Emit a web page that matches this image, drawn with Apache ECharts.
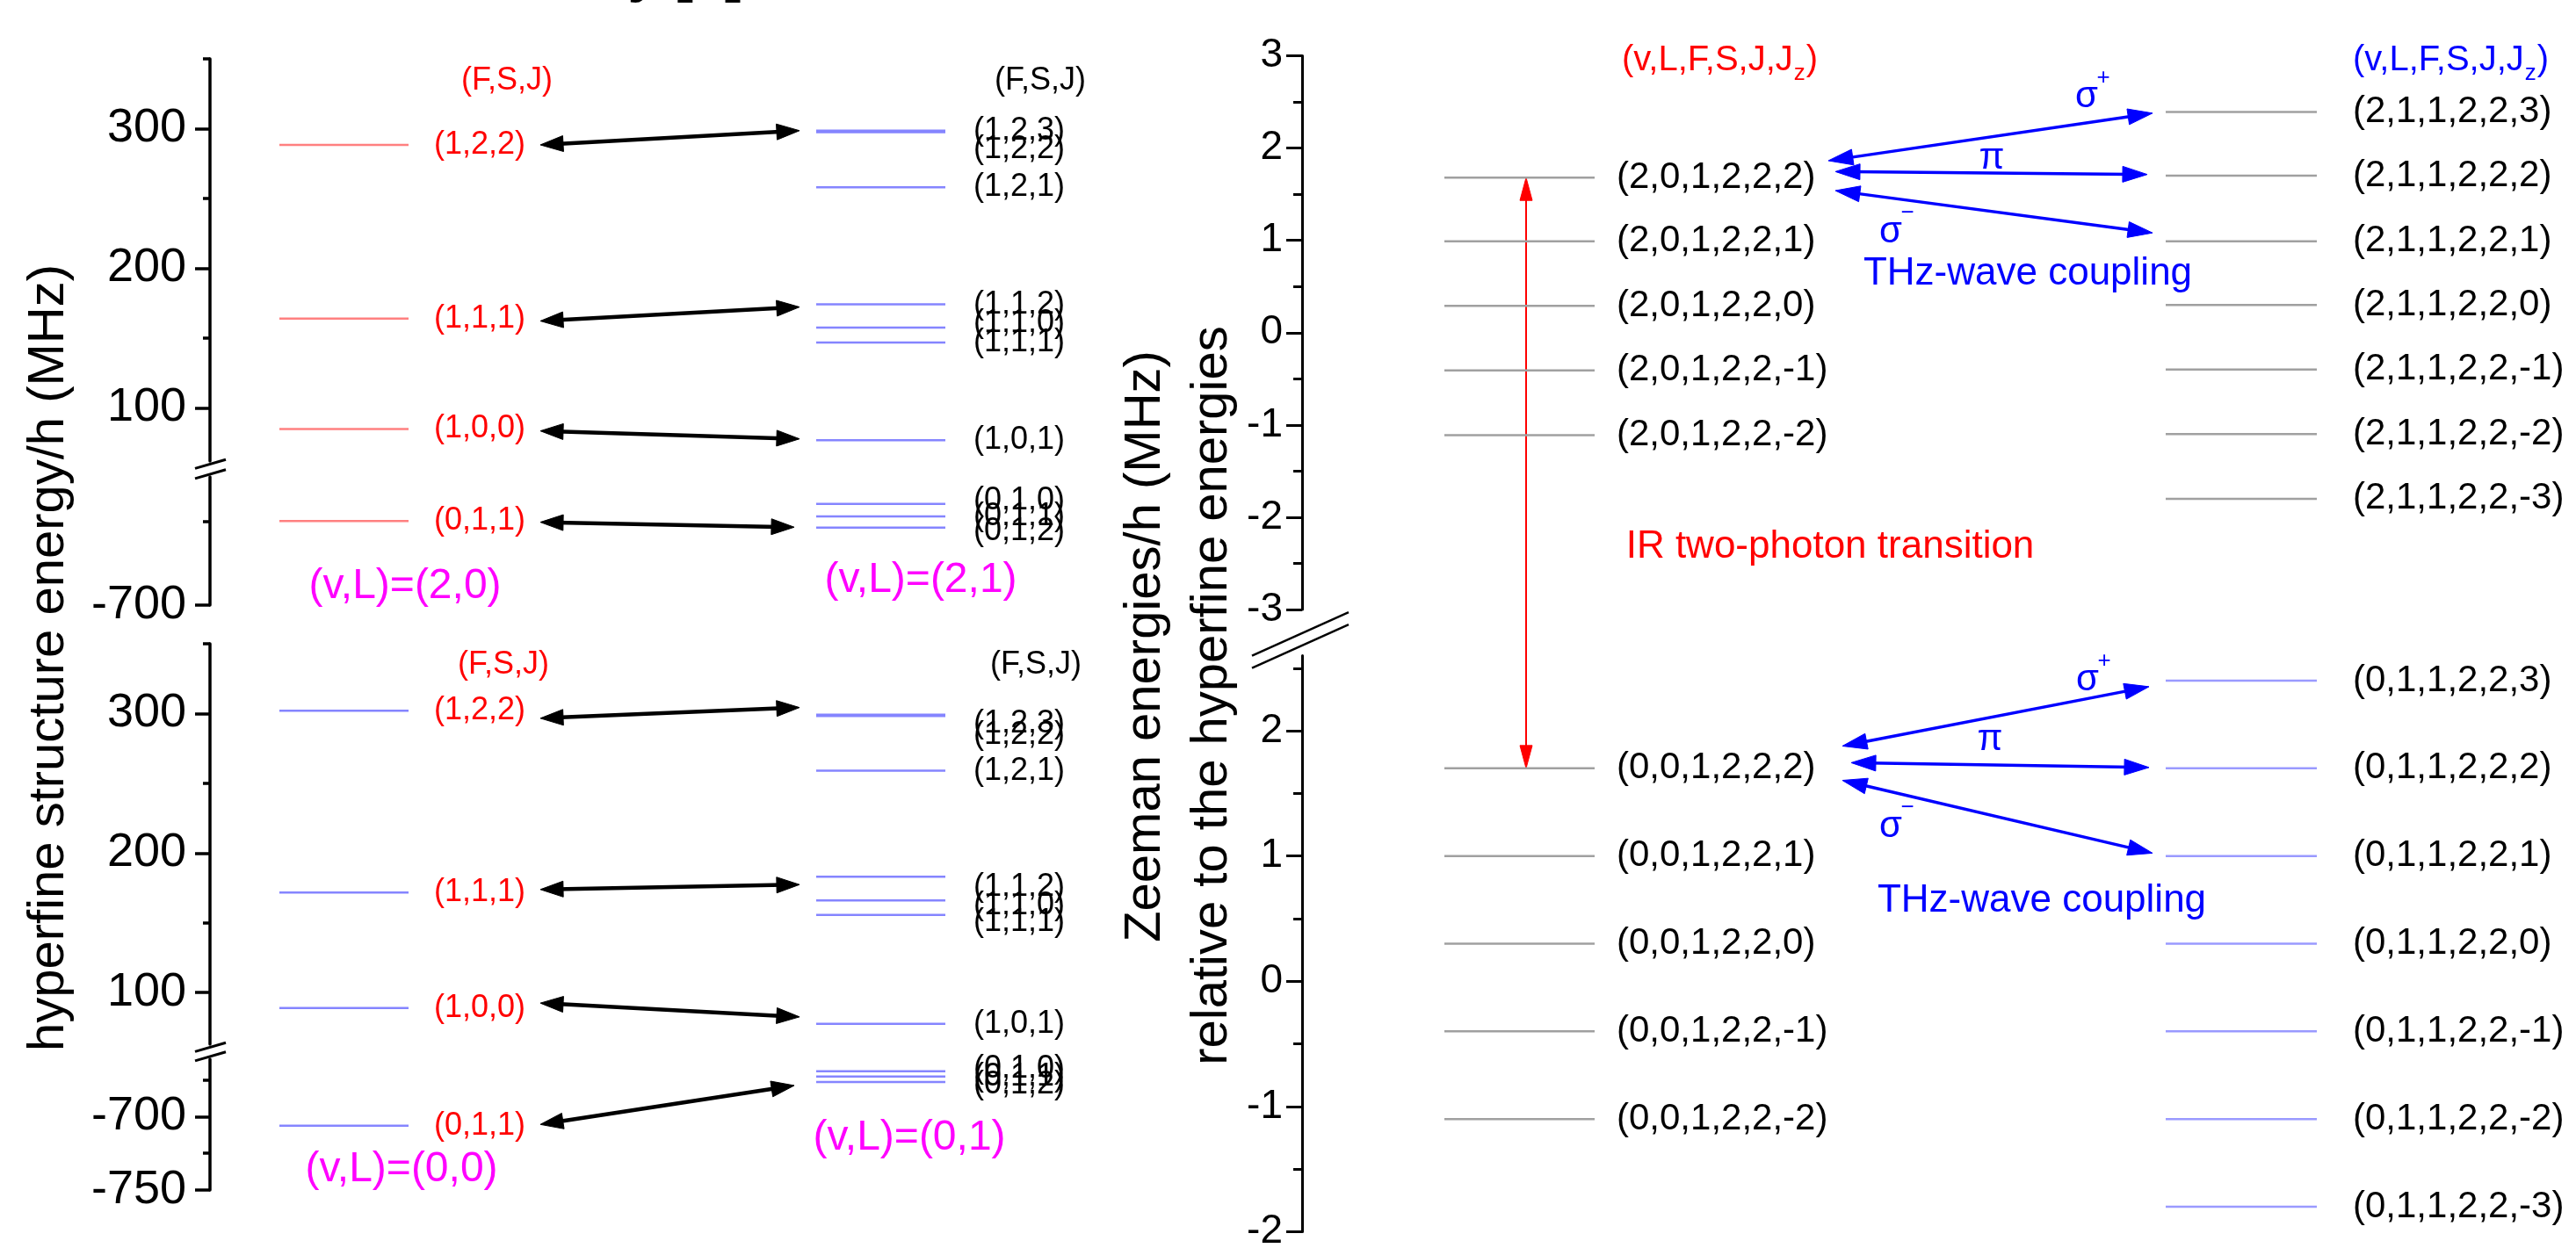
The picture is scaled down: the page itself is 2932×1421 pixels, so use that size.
<!DOCTYPE html>
<html>
<head>
<meta charset="utf-8">
<script src="https://cdn.jsdelivr.net/npm/echarts@6/dist/echarts.min.js"></script>
<style>
html,body{margin:0;padding:0;background:#fff;}
#c{width:2932px;height:1421px;}
</style>
</head>
<body>
<div id="c"></div>
<script>
// ================= DATA =================
// Hyperfine structure energies/h (MHz), (F,S,J) labels
const hfLowerNames = ['(1,2,2)', '(1,1,1)', '(1,0,0)', '(0,1,1)'];
const hfUpperNames = ['(1,2,3)', '(1,2,2)', '(1,2,1)', '(1,1,2)', '(1,1,0)', '(1,1,1)', '(1,0,1)', '(0,1,0)', '(0,1,1)', '(0,1,2)'];
// (v,L)=(2,0) and (2,1)
const v2L0Energies = [288.4, 164.0, 85.0, -649.5];
const v2L1Energies = [298.6, 297.5, 258.0, 174.2, 157.6, 146.9, 77.0, -639.2, -646.7, -653.5];
const v2Transitions = [[288.4, 298.6], [162.3, 172.3], [83.6, 77.9], [-650.2, -653.2]];
// (v,L)=(0,0) and (0,1)
const v0L0Energies = [302.0, 171.8, 89.0, -706.3];
const v0L1Energies = [299.1, 298.2, 259.0, 183.0, 166.0, 155.6, 77.7, -669.2, -672.8, -676.6];
const v0Transitions = [[296.6, 304.3], [173.9, 177.4], [92.5, 82.6], [-705.4, -678.9]];

// Zeeman energies/h relative to hyperfine energies (MHz), (v,L,F,S,J,Jz) labels
const zV2L0Names = ['(2,0,1,2,2,2)', '(2,0,1,2,2,1)', '(2,0,1,2,2,0)', '(2,0,1,2,2,-1)', '(2,0,1,2,2,-2)'];
const zV2L0Energies = [1.68, 0.99, 0.29, -0.41, -1.11];
const zV2L1Names = ['(2,1,1,2,2,3)', '(2,1,1,2,2,2)', '(2,1,1,2,2,1)', '(2,1,1,2,2,0)', '(2,1,1,2,2,-1)', '(2,1,1,2,2,-2)', '(2,1,1,2,2,-3)'];
const zV2L1Energies = [2.39, 1.70, 0.99, 0.30, -0.40, -1.10, -1.80];
const zV0L0Names = ['(0,0,1,2,2,2)', '(0,0,1,2,2,1)', '(0,0,1,2,2,0)', '(0,0,1,2,2,-1)', '(0,0,1,2,2,-2)'];
const zV0L0Energies = [1.70, 1.00, 0.30, -0.40, -1.10];
const zV0L1Names = ['(0,1,1,2,2,3)', '(0,1,1,2,2,2)', '(0,1,1,2,2,1)', '(0,1,1,2,2,0)', '(0,1,1,2,2,-1)', '(0,1,1,2,2,-2)', '(0,1,1,2,2,-3)'];
const zV0L1Energies = [2.40, 1.70, 1.00, 0.30, -0.40, -1.10, -1.80];
// THz couplings sigma+, pi, sigma- : [from, to]
const zV2Couplings = [[1.863, 2.378], [1.745, 1.714], [1.539, 1.081]];
const zV0Couplings = [[1.878, 2.352], [1.745, 1.707], [1.604, 1.023]];
// IR two-photon transition: from (0,0,1,2,2,2) to (2,0,1,2,2,2)
const irFrom = 1.70;
const irTo = 1.68;

// Tick values
const hfMajorTicks = [100, 200, 300];
const hfMinorTicks = [150, 250, 350];
const v2LowMajorTicks = [-700];
const v2LowMinorTicks = [-650];
const v0LowMajorTicks = [-750, -700];
const v0LowMinorTicks = [-725, -675];
const zV2MajorTicks = [-3, -2, -1, 0, 1, 2, 3];
const zV2MinorTicks = [-2.5, -1.5, -0.5, 0.5, 1.5, 2.5];
const zV0MajorTicks = [-2, -1, 0, 1, 2];
const zV0MinorTicks = [-1.5, -0.5, 0.5, 1.5, 2.5];

// ================= LAYOUT / STYLE =================
const FONT = '"Liberation Sans", Arial, Helvetica, sans-serif';
const LEFT_AX = {aw: 3.5, tl: 17, tm: 8, lm: 27, fs: 54};
const RIGHT_AX = {aw: 3, tl: 18, tm: 10, lm: 22, fs: 46};
const GRIDS = [
  Object.assign({left: 239, top: 67, width: 1000, height: 458, min: 62, max: 350, major: hfMajorTicks, minor: hfMinorTicks}, LEFT_AX),
  Object.assign({left: 239, top: 543, width: 1000, height: 146, min: -700, max: -623, major: v2LowMajorTicks, minor: v2LowMinorTicks}, LEFT_AX),
  Object.assign({left: 239, top: 733, width: 1000, height: 456, min: 63, max: 350, major: hfMajorTicks, minor: hfMinorTicks}, LEFT_AX),
  Object.assign({left: 239, top: 1206, width: 1000, height: 149, min: -750, max: -661, major: v0LowMajorTicks, minor: v0LowMinorTicks}, LEFT_AX),
  Object.assign({left: 1482, top: 63.5, width: 1440, height: 630.5, min: -3, max: 3, major: zV2MajorTicks, minor: zV2MinorTicks}, RIGHT_AX),
  Object.assign({left: 1482, top: 746.5, width: 1440, height: 656, min: -2, max: 2.6, major: zV0MajorTicks, minor: zV0MinorTicks}, RIGHT_AX)
];
const hfLeftCol = {x0: 79, x1: 226, lx: 255};
const hfRightCol = {x0: 690, x1: 837, lx: 869};
const hfArrowX = [[376, 671], [376, 671], [376, 671], [376, 665]];
const zLeftCol = {x0: 162, x1: 333, lx: 358};
const zRightCol = {x0: 983, x1: 1155, lx: 1196};
const zV2ArrowX = [[599, 968], [607, 962], [607, 968]];
const zV0ArrowX = [[615, 964], [625, 964], [615, 968]];
const irX = 255;
const v2L1Nudge = [0, 20, 0, 1, -5, 0, 0, -4, 0, 4];
const v0L1Nudge = [10, 22, 0, 12, 6, 8, 0, -3, 0, 3];

// ================= HELPERS =================
function inGrid(gi, e) { const g = GRIDS[gi]; return e >= g.min - 1e-9 && e <= g.max + 1e-9; }

function arrowShape(p, q, st) {
  const dx = q[0] - p[0], dy = q[1] - p[1];
  const len = Math.hypot(dx, dy) || 1;
  const ux = dx / len, uy = dy / len, nx = -uy, ny = ux;
  const L = st.head, W = st.hw;
  const head = (t, s) => [
    [t[0], t[1]],
    [t[0] - s * ux * L + nx * W, t[1] - s * uy * L + ny * W],
    [t[0] - s * ux * L - nx * W, t[1] - s * uy * L - ny * W]
  ];
  return {
    type: 'group',
    children: [
      {type: 'line', shape: {x1: p[0] + ux * L * 0.7, y1: p[1] + uy * L * 0.7, x2: q[0] - ux * L * 0.7, y2: q[1] - uy * L * 0.7},
       style: {stroke: st.color, lineWidth: st.lw, fill: null}},
      {type: 'polygon', shape: {points: head(q, 1)}, style: {fill: st.color, stroke: st.color, lineWidth: 1}},
      {type: 'polygon', shape: {points: head(p, -1)}, style: {fill: st.color, stroke: st.color, lineWidth: 1}}
    ]
  };
}

function levelSeries(grids, energies, names, col, st, nudge) {
  return grids.map(gi => ({
    type: 'custom', xAxisIndex: gi, yAxisIndex: 2 * gi, silent: true, clip: false, z: 5,
    encode: {x: [0, 1], y: 2},
    data: energies.map((e, i) => [col.x0, col.x1, e, i]).filter(d => inGrid(gi, d[2])),
    renderItem: function (params, api) {
      const e = api.value(2), i = api.value(3);
      const a = api.coord([api.value(0), e]);
      const b = api.coord([api.value(1), e]);
      const lp = api.coord([col.lx, e]);
      return {
        type: 'group',
        children: [
          {type: 'line', shape: {x1: a[0], y1: a[1], x2: b[0], y2: b[1]}, style: {stroke: st.line, lineWidth: st.lw}},
          {type: 'text', x: lp[0], y: lp[1] + ((nudge && nudge[i]) || 0),
           style: {text: names[i], fill: st.text, fontSize: st.fs, fontFamily: FONT,
                   align: 'left', verticalAlign: 'middle', textAlign: 'left', textVerticalAlign: 'middle'}}
        ]
      };
    }
  }));
}

function arrowSeries(grids, pairs, xs, st) {
  return grids.map(gi => ({
    type: 'custom', xAxisIndex: gi, yAxisIndex: 2 * gi, silent: true, clip: false, z: 6,
    encode: {x: [0, 2], y: [1, 3]},
    data: pairs.map((p, i) => [xs[i][0], p[0], xs[i][1], p[1]]).filter(d => inGrid(gi, d[1])),
    renderItem: function (params, api) {
      const p = api.coord([api.value(0), api.value(1)]);
      const q = api.coord([api.value(2), api.value(3)]);
      return arrowShape(p, q, st);
    }
  }));
}

const RED_LVL = {line: '#ff8080', lw: 2.5, text: '#ff0000', fs: 36};
const BLUE_LVL = {line: '#8585ff', lw: 2.5, text: '#000000', fs: 36};
const BLUE_LVL_RED_TXT = {line: '#8585ff', lw: 2.5, text: '#ff0000', fs: 36};
const GRAY_Z = {line: '#a0a0a0', lw: 2.5, text: '#000000', fs: 42};
const BLUE_Z = {line: '#9a9aff', lw: 2.5, text: '#000000', fs: 42};
const BLACK_ARROW = {color: '#000', lw: 4.5, head: 26, hw: 9};
const BLUE_ARROW = {color: '#0000ff', lw: 3.5, head: 28, hw: 9};
const RED_ARROW = {color: '#ff0000', lw: 2, head: 26, hw: 7};

// ================= OPTION =================
const series = [].concat(
  levelSeries([0, 1], v2L0Energies, hfLowerNames, hfLeftCol, RED_LVL, null),
  levelSeries([0, 1], v2L1Energies, hfUpperNames, hfRightCol, BLUE_LVL, v2L1Nudge),
  arrowSeries([0, 1], v2Transitions, hfArrowX, BLACK_ARROW),
  levelSeries([2, 3], v0L0Energies, hfLowerNames, hfLeftCol, BLUE_LVL_RED_TXT, null),
  levelSeries([2, 3], v0L1Energies, hfUpperNames, hfRightCol, BLUE_LVL, v0L1Nudge),
  arrowSeries([2, 3], v0Transitions, hfArrowX, BLACK_ARROW),
  levelSeries([4], zV2L0Energies, zV2L0Names, zLeftCol, GRAY_Z, null),
  levelSeries([4], zV2L1Energies, zV2L1Names, zRightCol, GRAY_Z, null),
  arrowSeries([4], zV2Couplings, zV2ArrowX, BLUE_ARROW),
  levelSeries([5], zV0L0Energies, zV0L0Names, zLeftCol, GRAY_Z, null),
  levelSeries([5], zV0L1Energies, zV0L1Names, zRightCol, BLUE_Z, null),
  arrowSeries([5], zV0Couplings, zV0ArrowX, BLUE_ARROW)
);

const option = {
  animation: false,
  backgroundColor: '#ffffff',
  grid: GRIDS.map(g => ({left: g.left, top: g.top, width: g.width, height: g.height, containLabel: false, outerBoundsMode: 'none'})),
  xAxis: GRIDS.map((g, i) => ({gridIndex: i, type: 'value', min: 0, max: g.width, show: false})),
  yAxis: [].concat.apply([], GRIDS.map((g, i) => [
    {gridIndex: i, type: 'value', min: g.min, max: g.max, position: 'left',
     axisLine: {show: true, onZero: false, lineStyle: {color: '#000', width: g.aw}},
     axisTick: {show: true, inside: false, length: g.tl, customValues: g.major, lineStyle: {color: '#000', width: g.aw}},
     axisLabel: {show: true, customValues: g.major, margin: g.lm, fontSize: g.fs, fontFamily: FONT, color: '#000'},
     splitLine: {show: false}, minorTick: {show: false}},
    {gridIndex: i, type: 'value', min: g.min, max: g.max, position: 'left',
     axisLine: {show: false, onZero: false},
     axisTick: {show: true, inside: false, length: g.tm, customValues: g.minor, lineStyle: {color: '#000', width: g.aw}},
     axisLabel: {show: false}, splitLine: {show: false}, minorTick: {show: false}}
  ])),
  series: series
};

const chart = echarts.init(document.getElementById('c'), null, {renderer: 'canvas', width: 2932, height: 1421});
chart.setOption(option);

// ================= ANNOTATIONS =================
const mctx = document.createElement('canvas').getContext('2d');
function tw(text, size) { mctx.font = size + 'px ' + FONT; return mctx.measureText(text).width; }

const G = [];
function txt(x, y, text, o) {
  o = o || {};
  const al = o.align || 'center';
  G.push({type: 'text', x: x, y: y, rotation: o.rot || 0, z: 100, silent: true,
    style: {text: text, fill: o.color || '#000', fontSize: o.size || 36, fontFamily: FONT, fontWeight: o.weight || 'normal',
            align: al, verticalAlign: 'middle', textAlign: al, textVerticalAlign: 'middle'}});
}
function seg(x1, y1, x2, y2, w) {
  G.push({type: 'line', z: 100, silent: true, shape: {x1: x1, y1: y1, x2: x2, y2: y2}, style: {stroke: '#000', lineWidth: w || 3}});
}
const px = (gi, x, y) => chart.convertToPixel({xAxisIndex: gi, yAxisIndex: 2 * gi}, [x, y]);

// cut-off title at the very top (only descenders visible)
txt(846, -28, 'Level scheme from theory [a]', {size: 64, weight: 'bold', align: 'right'});

// axis titles
txt(56, 749, 'hyperfine structure energy/h (MHz)', {size: 58, rot: Math.PI / 2});
txt(1304, 736, 'Zeeman energies/h (MHz)', {size: 58, rot: Math.PI / 2});
txt(1380, 792, 'relative to the hyperfine energies', {size: 58, rot: Math.PI / 2});

// headers of left panels
txt(577, 92, '(F,S,J)', {color: '#ff0000', size: 36});
txt(1184, 92, '(F,S,J)', {color: '#000', size: 36});
txt(573, 757, '(F,S,J)', {color: '#ff0000', size: 36});
txt(1179, 757, '(F,S,J)', {color: '#000', size: 36});
txt(461, 668, '(v,L)=(2,0)', {color: '#ff00ff', size: 48});
txt(1048, 661, '(v,L)=(2,1)', {color: '#ff00ff', size: 48});
txt(457, 1332, '(v,L)=(0,0)', {color: '#ff00ff', size: 48});
txt(1035, 1296, '(v,L)=(0,1)', {color: '#ff00ff', size: 48});

// headers of right panel (with subscript z)
function header(x0, y0, color) {
  const main = '(v,L,F,S,J,J';
  const w = tw(main, 40);
  txt(x0, y0, main, {color: color, size: 40, align: 'left'});
  txt(x0 + w + 1, y0 + 15, 'z', {color: color, size: 26, align: 'left'});
  txt(x0 + w + 2 + tw('z', 26), y0, ')', {color: color, size: 40, align: 'left'});
}
header(1846, 69, '#ff0000');
header(2678, 69, '#0000ff');

// polarisation labels
function sigma(x, y, sup) {
  txt(x, y, 'σ', {color: '#0000ff', size: 42});
  txt(x + 19, y - 21, sup, {color: '#0000ff', size: 26});
}
sigma(2375, 110, '+');
txt(2267, 180, 'π', {color: '#0000ff', size: 42});
sigma(2152, 264, '−');
sigma(2376, 774, '+');
txt(2265, 842, 'π', {color: '#0000ff', size: 42});
sigma(2152, 941, '−');
txt(2308, 312, 'THz-wave coupling', {color: '#0000ff', size: 44});
txt(2324, 1026, 'THz-wave coupling', {color: '#0000ff', size: 44});
txt(2083, 623, 'IR two-photon transition', {color: '#ff0000', size: 44});

// IR two-photon transition arrow between the two Zeeman grids
const irP = px(5, irX, irFrom);
const irQ = px(4, irX, irTo);
const irArrow = arrowShape(irP, irQ, RED_ARROW);
irArrow.z = 50;
G.push(irArrow);

// axis break marks
function leftBreak(gu, gl) {
  const ax = GRIDS[gu].left;
  const yU = px(gu, 0, GRIDS[gu].min)[1];
  const yL = px(gl, 0, GRIDS[gl].max)[1];
  [yU + 3.5, yL - 3].forEach(c => seg(ax - 17, c + 0.29 * 17, ax + 18, c - 0.29 * 18, 3));
}
leftBreak(0, 1);
leftBreak(2, 3);
(function () {
  const ax = GRIDS[4].left;
  const yU = px(4, 0, GRIDS[4].min)[1];
  const yL = px(5, 0, GRIDS[5].max)[1];
  [yU + 27, yL - 11.5].forEach(c => seg(ax - 57, c + 0.45 * 57, ax + 53, c - 0.45 * 53, 2.5));
})();

chart.setOption({graphic: {elements: G}});
</script>
</body>
</html>
